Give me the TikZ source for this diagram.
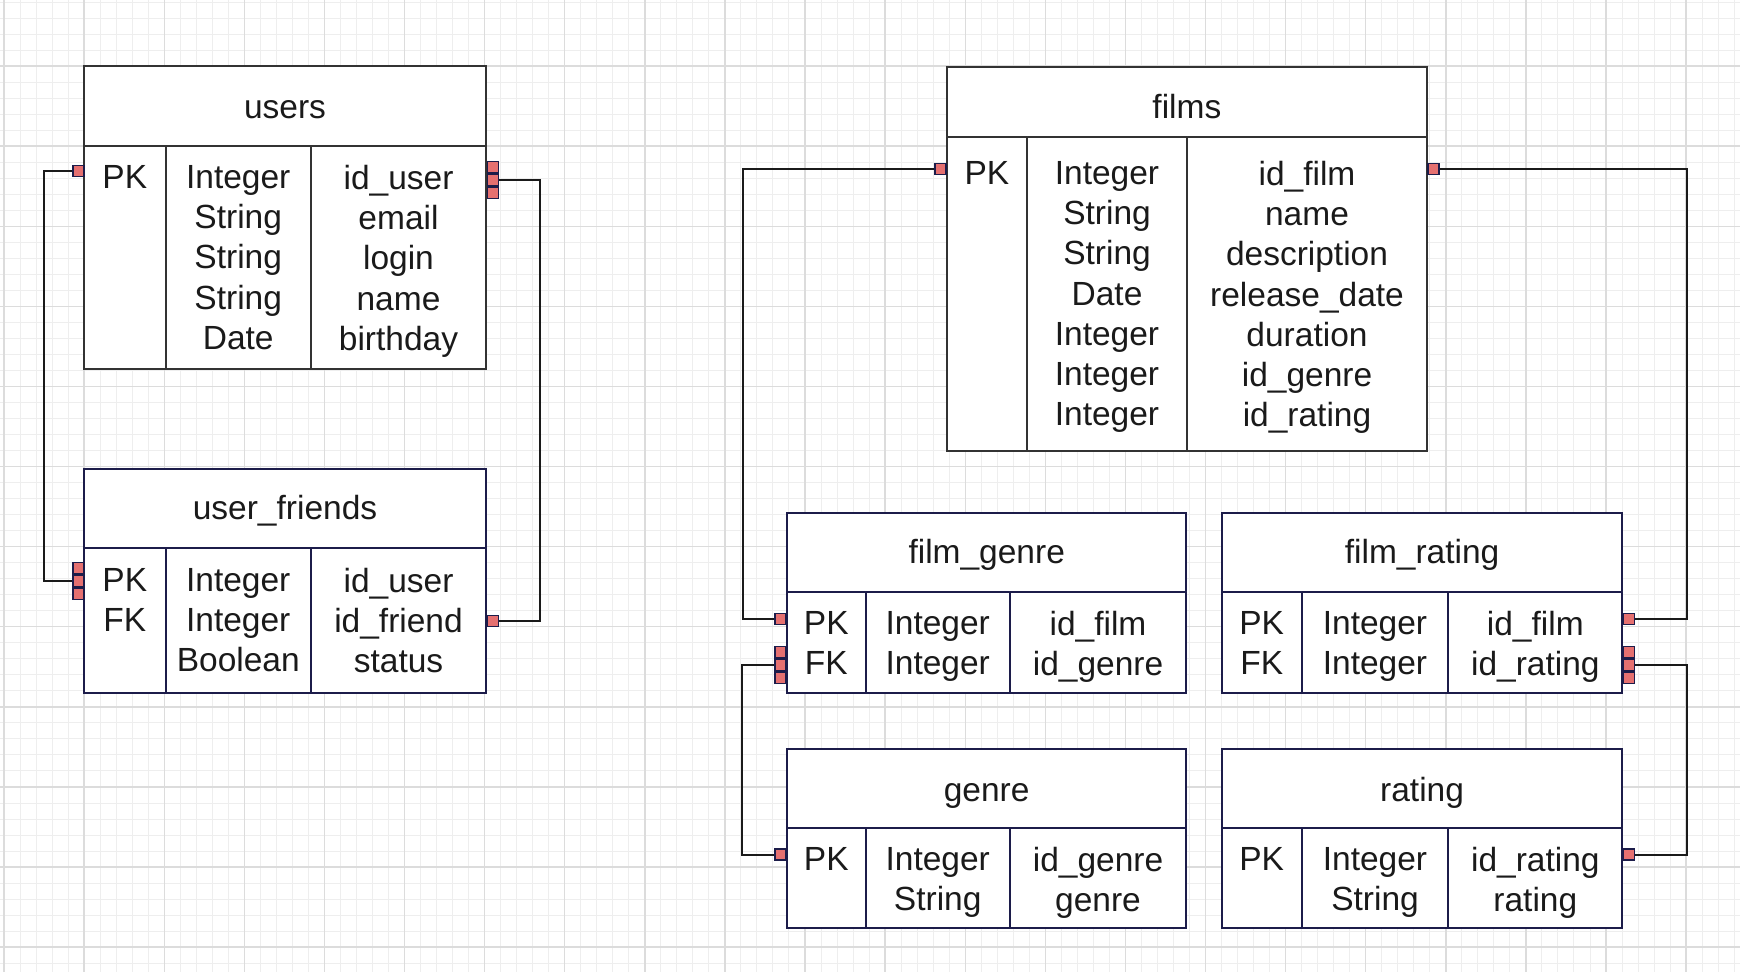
\documentclass[tikz,border=0pt]{standalone}
\usepackage{fontspec}
\usepackage{xcolor}
\newfontfamily\erfont{Liberation Sans}
\newcommand\erdfont{\erfont\fontsize{33.5}{40.25}\selectfont}

\definecolor{pkred}{RGB}{229,112,112}
\definecolor{navy}{RGB}{28,28,74}
\definecolor{ink}{RGB}{51,51,51}
\definecolor{txt}{RGB}{26,26,26}
\definecolor{gridminor}{RGB}{238,238,238}
\definecolor{gridmajor}{RGB}{220,220,220}

\tikzset{
  tbl/.style={line width=2pt, draw=ink, fill=white},
  tbln/.style={line width=2pt, draw=navy, fill=white},
  title/.style={anchor=base, inner sep=0pt, font=\erdfont, text=txt},
  rows/.style={anchor=north, align=center, inner sep=0pt, font=\erdfont, text=txt},
  one/.style={rectangle, draw=navy, fill=pkred, line width=1.5pt, inner sep=0pt,
    minimum width=11pt, minimum height=11.2pt},
  link/.style={line width=2pt, draw=txt},
}

\begin{document}
\begin{tikzpicture}[x=1pt,y=-1pt]
\useasboundingbox (0,0) rectangle (1740,972);
\fill[white] (0,0) rectangle (1740,972);

% grid:
\foreach \i in {0,...,108} \draw[gridminor, line width=1pt] (4+16.02*\i,0) -- (4+16.02*\i,972);
\foreach \j in {0,...,60} \draw[gridminor, line width=1pt] (0,2+16.02*\j) -- (1740,2+16.02*\j);
\foreach \i in {0,...,21} \draw[gridmajor, line width=1.4pt] (4+80.1*\i,0) -- (4+80.1*\i,972);
\foreach \j in {0,...,11} \draw[gridmajor, line width=1.4pt] (0,66+80.1*\j) -- (1740,66+80.1*\j);


% users:
\draw[tbl] (84,66) rectangle (486,368.5);
\draw[tbl] (84,146) -- (486,146);
\draw[tbl] (165.5,146) -- (165.5,368.5);
\draw[tbl] (311,146) -- (311,368.5);
\node[title] (users) at (285,118) {users};
\node[rows] (users-key) at (124.75,165) {PK};
\node[rows] (users-type) at (238.25,165) {Integer\\String\\String\\String\\Date};
\node[rows] (users-name) at (398.5,165) {id\_user\\email\\login\\name\\birthday};

% user_friends:
\draw[tbln] (84,469) rectangle (486,692.5);
\draw[tbln] (84,548) -- (486,548);
\draw[tbln] (165.5,548) -- (165.5,692.5);
\draw[tbln] (311,548) -- (311,692.5);
\node[title] (friends) at (285,519) {user\_friends};
\node[rows] (friends-key) at (124.75,568) {PK\\FK};
\node[rows] (friends-type) at (238.25,568) {Integer\\Integer\\Boolean};
\node[rows] (friends-name) at (398.5,568) {id\_user\\id\_friend\\status};

% films:
\draw[tbl] (946.7,66.7) rectangle (1427,450.5);
\draw[tbl] (946.7,136.7) -- (1427,136.7);
\draw[tbl] (1027,136.7) -- (1027,450.5);
\draw[tbl] (1187,136.7) -- (1187,450.5);
\node[title] (films) at (1186.9,118.3) {films};
\node[rows] (films-key) at (986.9,161) {PK};
\node[rows] (films-type) at (1107,161) {Integer\\String\\String\\Date\\Integer\\Integer\\Integer};
\node[rows] (films-name) at (1307,161) {id\_film\\name\\description\\release\_date\\duration\\id\_genre\\id\_rating};

% film_genre:
\draw[tbln] (787,512.7) rectangle (1186.3,692.5);
\draw[tbln] (787,591.5) -- (1186.3,591.5);
\draw[tbln] (865.6,591.5) -- (865.6,692.5);
\draw[tbln] (1009.8,591.5) -- (1009.8,692.5);
\node[title] (fgenre) at (986.7,563.5) {film\_genre};
\node[rows] (fgenre-key) at (826.3,611) {PK\\FK};
\node[rows] (fgenre-type) at (937.7,611) {Integer\\Integer};
\node[rows] (fgenre-name) at (1098,611) {id\_film\\id\_genre};

% film_rating:
\draw[tbln] (1221.8,512.7) rectangle (1622.4,692.5);
\draw[tbln] (1221.8,591.5) -- (1622.4,591.5);
\draw[tbln] (1301.7,591.5) -- (1301.7,692.5);
\draw[tbln] (1448.2,591.5) -- (1448.2,692.5);
\node[title] (frating) at (1422.1,563.5) {film\_rating};
\node[rows] (frating-key) at (1261.7,611) {PK\\FK};
\node[rows] (frating-type) at (1375,611) {Integer\\Integer};
\node[rows] (frating-name) at (1535.3,611) {id\_film\\id\_rating};

% genre:
\draw[tbln] (787,749) rectangle (1186.3,927.7);
\draw[tbln] (787,828) -- (1186.3,828);
\draw[tbln] (865.6,828) -- (865.6,927.7);
\draw[tbln] (1009.8,828) -- (1009.8,927.7);
\node[title] (genre) at (986.7,801) {genre};
\node[rows] (genre-key) at (826.3,847) {PK};
\node[rows] (genre-type) at (937.7,847) {Integer\\String};
\node[rows] (genre-name) at (1098,847) {id\_genre\\genre};

% rating:
\draw[tbln] (1221.8,749) rectangle (1622.4,927.7);
\draw[tbln] (1221.8,828) -- (1622.4,828);
\draw[tbln] (1301.7,828) -- (1301.7,927.7);
\draw[tbln] (1448.2,828) -- (1448.2,927.7);
\node[title] (rating) at (1422.1,801) {rating};
\node[rows] (rating-key) at (1261.7,847) {PK};
\node[rows] (rating-type) at (1375,847) {Integer\\String};
\node[rows] (rating-name) at (1535.3,847) {id\_rating\\rating};


% key markers:
\node[one] (upk) at (78.5,171) {};
\node[one] (uid-a) at (493,167.3) {};
\node[one] (uid-c) at (493,192.7) {};
\node[one] (uid) at (493,180) {};
\node[one] (ufpk-a) at (78.5,568.3) {};
\node[one] (ufpk-c) at (78.5,593.7) {};
\node[one] (ufpk) at (78.5,581) {};
\node[one] (uffr) at (493,621) {};

\node[one] (fpkl) at (940.5,169) {};
\node[one] (fpkr) at (1433.3,169) {};

\node[one] (fgpk) at (780.3,619) {};
\node[one] (fgfk-a) at (780.3,652.3) {};
\node[one] (fgfk-c) at (780.3,677.7) {};
\node[one] (fgfk) at (780.3,665) {};
\node[one] (gpk) at (780.3,854.5) {};

\node[one] (frpk) at (1629,619) {};
\node[one] (frfk-a) at (1629,652.3) {};
\node[one] (frfk-c) at (1629,677.7) {};
\node[one] (frfk) at (1629,665) {};
\node[one] (rpk) at (1629,854.5) {};

% links:
\draw[link] (upk.west) -- ++(-28,0) |- (ufpk.west);
\draw[link] (uid.east) -- ++(41,0) |- (uffr.east);
\draw[link] (fpkl.west) -- ++(-191.6,0) |- (fgpk.west);
\draw[link] (fgfk.west) -- ++(-31.6,0) |- (gpk.west);
\draw[link] (fpkr.east) -- ++(247.4,0) |- (frpk.east);
\draw[link] (frfk.east) -- ++(51.7,0) |- (rpk.east);

\end{tikzpicture}
\end{document}
